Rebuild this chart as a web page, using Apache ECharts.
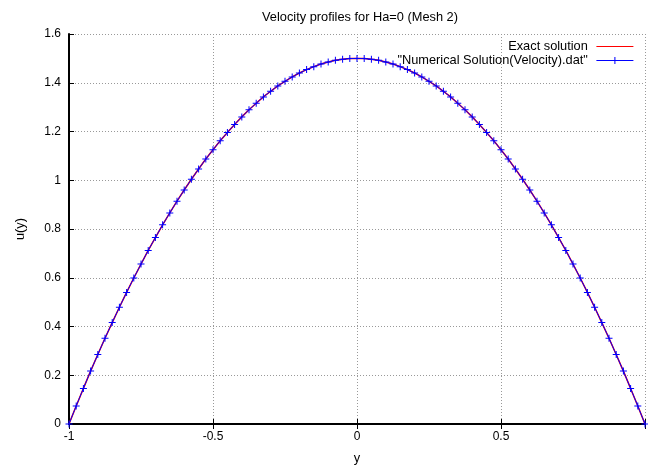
<!DOCTYPE html>
<html>
<head>
<meta charset="utf-8">
<script src="https://cdn.jsdelivr.net/npm/echarts@6/dist/echarts.min.js"></script>
<style>html,body{margin:0;padding:0;background:#fff}#c{width:648px;height:471px}</style>
</head>
<body>
<div id="c"></div>
<script>
// Data
var yValues = [-1,-0.975,-0.95,-0.925,-0.9,-0.875,-0.85,-0.825,-0.8,-0.775,-0.75,-0.725,-0.7,-0.675,-0.65,-0.625,-0.6,-0.575,-0.55,-0.525,-0.5,-0.475,-0.45,-0.425,-0.4,-0.375,-0.35,-0.325,-0.3,-0.275,-0.25,-0.225,-0.2,-0.175,-0.15,-0.125,-0.1,-0.075,-0.05,-0.025,0,0.025,0.05,0.075,0.1,0.125,0.15,0.175,0.2,0.225,0.25,0.275,0.3,0.325,0.35,0.375,0.4,0.425,0.45,0.475,0.5,0.525,0.55,0.575,0.6,0.625,0.65,0.675,0.7,0.725,0.75,0.775,0.8,0.825,0.85,0.875,0.9,0.925,0.95,0.975,1];
var exactU = [0,0.074,0.146,0.217,0.285,0.352,0.416,0.479,0.540,0.599,0.656,0.712,0.765,0.817,0.866,0.914,0.960,1.004,1.046,1.087,1.125,1.162,1.196,1.229,1.260,1.289,1.316,1.342,1.365,1.387,1.406,1.424,1.440,1.454,1.466,1.477,1.485,1.492,1.496,1.499,1.500,1.499,1.496,1.492,1.485,1.477,1.466,1.454,1.440,1.424,1.406,1.387,1.365,1.342,1.316,1.289,1.260,1.229,1.196,1.162,1.125,1.087,1.046,1.004,0.960,0.914,0.866,0.817,0.765,0.712,0.656,0.599,0.540,0.479,0.416,0.352,0.285,0.217,0.146,0.074,0];
var numericalU = [0,0.074,0.146,0.217,0.285,0.352,0.416,0.479,0.540,0.599,0.656,0.712,0.765,0.817,0.866,0.914,0.960,1.004,1.046,1.087,1.125,1.162,1.196,1.229,1.260,1.289,1.316,1.342,1.365,1.387,1.406,1.424,1.440,1.454,1.466,1.477,1.485,1.492,1.496,1.499,1.500,1.499,1.496,1.492,1.485,1.477,1.466,1.454,1.440,1.424,1.406,1.387,1.365,1.342,1.316,1.289,1.260,1.229,1.196,1.162,1.125,1.087,1.046,1.004,0.960,0.914,0.866,0.817,0.765,0.712,0.656,0.599,0.540,0.479,0.416,0.352,0.285,0.217,0.146,0.074,0];
var seriesNames = ['Exact solution', '"Numerical Solution(Velocity).dat"'];
var titleText = 'Velocity profiles for Ha=0 (Mesh 2)';

function pairs(xs, ys){ return xs.map(function(x,i){ return [x, ys[i]]; }); }

var FONT = 'Liberation Sans, Arial, sans-serif';
var plus = 'path://M3,0H4V3H7V4H4V7H3V4H0V3H3Z';
var chart = echarts.init(document.getElementById('c'), null, {renderer:'canvas'});
chart.setOption({
  animation: false,
  backgroundColor: '#fff',
  textStyle: {fontFamily: FONT},
  graphic: [{
    type: 'text', x: 360, y: 17,
    style: {text: titleText, fill: '#000', font: '12.8px ' + FONT, textAlign: 'center', textVerticalAlign: 'middle'}
  }],
  legend: {
    orient: 'vertical', right: 14, top: 40, align: 'right',
    itemWidth: 37, itemHeight: 9, itemGap: 1, padding: 0,
    textStyle: {fontSize: 12.8, color: '#000', fontFamily: FONT},
    formatter: function(n){ return n + ' '; },
    data: [
      {name: seriesNames[0], itemStyle: {opacity: 0}, lineStyle: {color: '#ff0000', width: 1.2}},
      {name: seriesNames[1], lineStyle: {color: '#0000ff', width: 1.2}}
    ]
  },
  grid: {left: 69, right: -3, top: 34, bottom: 47, containLabel: false},
  xAxis: [{
    type: 'value', min: -1, max: 1, interval: 0.5,
    name: 'y', nameLocation: 'middle', nameGap: 28,
    nameTextStyle: {fontSize: 12.8, color: '#000', fontFamily: FONT},
    axisLine: {show: true, onZero: false, lineStyle: {color: '#000', width: 2}},
    axisTick: {show: true, inside: true, length: 5, lineStyle: {color: '#000'}},
    axisLabel: {fontSize: 12, color: '#000', margin: 7, fontFamily: FONT,
      formatter: function(v){ return v === 1 ? '' : String(v); }},
    splitLine: {show: true, lineStyle: {color: '#999', type: [1,2], width: 1}}
  }, {
    type: 'value', position: 'top', min: -1, max: 1, interval: 0.5,
    axisLine: {show: true, lineStyle: {color: '#000', width: 2}},
    axisTick: {show: true, inside: true, length: 5, lineStyle: {color: '#000'}},
    axisLabel: {show: false}, splitLine: {show: false}
  }],
  yAxis: [{
    type: 'value', min: 0, max: 1.6, interval: 0.2,
    name: 'u(y)', nameLocation: 'middle', nameGap: 42, nameRotate: 90,
    nameTextStyle: {fontSize: 12.8, color: '#000', fontFamily: FONT},
    axisLine: {show: true, onZero: false, lineStyle: {color: '#000', width: 2}},
    axisTick: {show: true, inside: true, length: 5, lineStyle: {color: '#000'}},
    axisLabel: {fontSize: 12, color: '#000', margin: 8, fontFamily: FONT,
      formatter: function(v){ return String(Math.round(v*10)/10); }},
    splitLine: {show: true, lineStyle: {color: '#999', type: [1,2], width: 1}}
  }],
  series: [{
    name: seriesNames[0], type: 'line', data: pairs(yValues, exactU),
    showSymbol: false, symbol: 'circle',
    lineStyle: {color: '#ff0000', width: 1.5},
    itemStyle: {color: '#ff0000', opacity: 0}
  }, {
    name: seriesNames[1], type: 'line', data: pairs(yValues, numericalU),
    symbol: plus, symbolSize: 7, showSymbol: true,
    lineStyle: {color: '#0000ff', width: 1},
    itemStyle: {color: '#0000ff'}
  }]
});
</script>
</body>
</html>
